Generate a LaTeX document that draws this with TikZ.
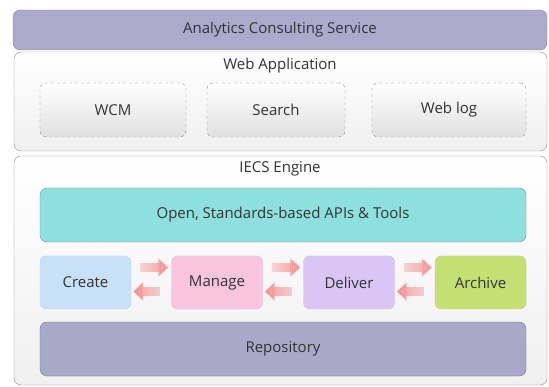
\documentclass[tikz,border=0pt]{standalone}
\usepackage{fontspec}
\setmainfont{Open Sans}
\usetikzlibrary{arrows.meta,fadings}
\definecolor{txt}{HTML}{333333}
\definecolor{acs}{HTML}{AAAACC}
\definecolor{apis}{HTML}{8EE0DE}
\definecolor{crt}{HTML}{C8E0F8}
\definecolor{mng}{HTML}{F8C4DE}
\definecolor{dlv}{HTML}{DAC6F4}
\definecolor{arc}{HTML}{C4DF72}
\definecolor{repo}{HTML}{A9A9C7}
\definecolor{arr}{HTML}{F58F8F}
\tikzfading[name=fadeR, left color=transparent!90, right color=transparent!0]
\tikzfading[name=fadeL, left color=transparent!0, right color=transparent!90]
\begin{document}
\begin{tikzpicture}[x=1pt,y=-1pt,
  txtfont/.style={font=\fontsize{15}{17}\selectfont, text=txt},
  layer/.style={draw=black!45, rounded corners=7pt, inner sep=0pt, txtfont},
  outer/.style={layer, top color=white, bottom color=black!6},
  dash box/.style={draw=black!45, dashed, rounded corners=6pt, inner sep=0pt, top color=white, bottom color=black!12, txtfont},
  cbox/.style={draw=#1!80!black!60, fill=#1, rounded corners=6pt, inner sep=0pt, txtfont, minimum width=91pt, minimum height=53pt},
  fwd/.style={arr, line width=9pt, -{Triangle[width=18pt,length=10pt]}, path fading=fadeR},
  bwd/.style={arr, line width=9pt, -{Triangle[width=18pt,length=10pt]}, path fading=fadeL},
  label/.style={txtfont}]
\useasboundingbox (0,0) rectangle (549,387);
\node[layer, fill=acs, minimum width=534pt, minimum height=40pt] (acs) at (280,30) {Analytics Consulting Service};
\node[outer, minimum width=533pt, minimum height=99pt] (web) at (280.5,101.5) {};
\node[label] (webt) at (280,66) {Web Application};
\node[dash box, minimum width=146pt, minimum height=54pt] (wcm) at (113,110) {WCM};
\node[dash box, minimum width=138pt, minimum height=54pt] (search) at (276,110) {Search};
\node[dash box, minimum width=154pt, minimum height=54pt] (weblog) at (449,110) {Web log};
\node[outer, minimum width=533pt, minimum height=229pt] (iecs) at (280.5,270.5) {};
\node[label] (iecst) at (280,169) {IECS Engine};
\node[layer, draw=apis!70!black, fill=apis, minimum width=486pt, minimum height=54pt] (apis) at (283,215) {Open, Standards-based APIs \& Tools};
\node[cbox=crt] (create) at (85.5,282.5) {Create};
\node[cbox=mng] (manage) at (217,282.5) {Manage};
\node[cbox=dlv] (deliver) at (349,282.5) {Deliver};
\node[cbox=arc] (archive) at (480.5,282.5) {Archive};
\node[layer, draw=repo!70!black, fill=repo, minimum width=486pt, minimum height=54pt] (repo) at (283,349) {Repository};
\foreach \a/\b in {create/manage,manage/deliver,deliver/archive}{
  \draw[fwd, shorten <=9pt, shorten >=3pt] ([yshift=15pt]\a.east) -- ([yshift=15pt]\b.west);
  \draw[bwd, shorten <=11pt, shorten >=2pt] ([yshift=-9pt]\b.west) -- ([yshift=-9pt]\a.east);
}
\end{tikzpicture}
\end{document}
